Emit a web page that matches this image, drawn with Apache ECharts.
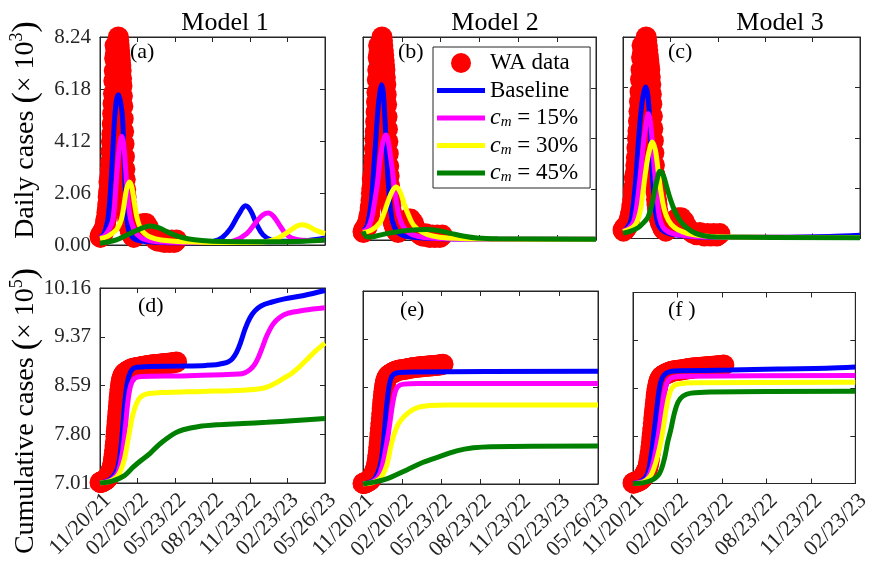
<!DOCTYPE html>
<html>
<head>
<meta charset="utf-8">
<script src="https://cdn.jsdelivr.net/npm/echarts@6/dist/echarts.min.js"></script>
<style>html,body{margin:0;padding:0;background:#fff;}#chart{width:873px;height:566px;}</style>
</head>
<body>
<div id="chart"></div>
<script>
// ---------- tick labels ----------
const xTickLabels = ['11/20/21','02/20/22','05/23/22','08/23/22','11/23/22','02/23/23','05/26/23'];
const dailyTickLabels = ['0.00','2.06','4.12','6.18','8.24'];
const cumTickLabels = ['7.01','7.80','8.59','9.37','10.16'];
const modelTitles = ['Model 1','Model 2','Model 3'];
const panelLetters = ['(a)','(b)','(c)','(d)','(e)','(f )'];
const seriesNames = ['WA data','Baseline','c_m = 15%','c_m = 30%','c_m = 45%'];

// ---------- WA data (days since 11/20/21) ----------
const dataDays = [0,1,2,3,4,5,6,7,8,9,10,11,12,13,14,15,16,17,18,19,20,21,22,23,24,25,26,27,28,29,30,31,32,33,34,35,36,37,38,39,40,41,42,43,44,45,46,47,48,49,50,51,52,53,54,55,56,57,58,59,60,61,62,63,64,65,66,67,68,69,70,71,72,73,74,75,76,77,78,79,80,
  83,86,89,92,95,98,101,104,107,110,113,116,119,122,125,128,131,134,137,140,143,146,149,152,155,158,161,164,167,170,173,176,179,182,185,188];
const dataDaily = [0.35,0.3,0.4,0.45,0.35,0.4,0.5,0.45,0.55,0.6,0.55,0.7,0.75,0.8,0.95,1.0,1.1,1.3,1.4,1.6,1.9,2.1,2.5,2.4,2.7,3.0,3.3,3.7,4.1,4.4,4.8,5.2,5.6,6.0,6.5,6.9,7.4,7.9,7.6,7.2,6.9,7.1,7.4,7.7,8.0,8.24,8.1,7.9,7.7,7.5,7.3,7.1,6.9,6.6,6.3,5.9,5.5,5.0,4.5,4.0,3.5,3.0,2.6,2.2,1.9,1.6,1.4,1.2,1.05,0.95,0.85,0.8,0.7,0.65,0.6,0.55,0.5,0.45,0.4,0.4,0.35,
  0.3,0.35,0.4,0.45,0.55,0.65,0.75,0.8,0.85,0.8,0.85,0.75,0.7,0.55,0.45,0.35,0.3,0.25,0.2,0.2,0.15,0.2,0.25,0.2,0.15,0.1,0.15,0.2,0.15,0.1,0.15,0.2,0.15,0.1,0.15,0.2];
const dataCum = [7.02,7.02,7.02,7.03,7.03,7.03,7.03,7.04,7.04,7.04,7.05,7.05,7.05,7.06,7.06,7.07,7.07,7.08,7.09,7.1,7.1,7.11,7.13,7.14,7.16,7.17,7.19,7.2,7.22,7.24,7.26,7.29,7.33,7.37,7.42,7.48,7.54,7.61,7.68,7.76,7.84,7.92,8.0,8.08,8.16,8.24,8.32,8.39,8.46,8.52,8.57,8.61,8.65,8.68,8.7,8.72,8.74,8.75,8.76,8.77,8.78,
  8.785,8.79,8.795,8.8,8.805,8.81,8.815,8.82,8.822,8.825,8.83,8.832,8.835,8.84,8.842,8.845,8.85,8.852,8.855,8.86,
  8.865,8.87,8.873,8.876,8.879,8.882,8.886,8.89,8.894,8.898,8.902,8.906,8.91,8.913,8.916,8.918,8.92,8.922,8.924,8.926,8.928,8.93,8.932,8.934,8.936,8.938,8.94,8.942,8.944,8.946,8.948,8.95,8.953,8.956,8.96,8.965];

// ---------- Model 1 daily (x10^3) ----------
const m1DailyBase = [[0,0.3],[5,0.35],[10,0.45],[15,0.7],[20,1.1],[25,2.0],[30,3.3],[35,4.8],[40,5.7],[45,5.95],[50,5.7],[55,5.1],[58,4.0],[61,2.6],[65,1.3],[70,0.6],[80,0.3],[90,0.2],[110,0.14],[150,0.1],[200,0.09],[250,0.1],[280,0.15],[300,0.3],[320,0.65],[340,1.2],[357,1.55],[370,1.35],[385,0.8],[400,0.4],[420,0.2],[450,0.15],[480,0.15],[510,0.18],[530,0.22],[552,0.28]];
const m1DailyC15 = [[0,0.3],[10,0.35],[20,0.55],[30,0.9],[35,1.4],[40,2.5],[45,3.5],[50,4.15],[54,4.3],[58,4.0],[63,3.0],[68,1.9],[73,1.2],[78,0.85],[90,0.45],[100,0.3],[110,0.22],[130,0.15],[170,0.11],[250,0.1],[300,0.11],[330,0.17],[360,0.45],[385,0.95],[400,1.2],[413,1.27],[425,1.15],[440,0.8],[455,0.45],[470,0.28],[490,0.2],[520,0.18],[552,0.2]];
const m1DailyC30 = [[0,0.25],[20,0.35],[40,0.6],[50,0.9],[55,1.2],[60,1.7],[65,2.2],[72,2.5],[78,2.3],[85,1.6],[92,1.0],[100,0.65],[110,0.45],[125,0.3],[150,0.2],[200,0.13],[300,0.1],[400,0.12],[420,0.18],[440,0.3],[460,0.5],[480,0.72],[495,0.8],[510,0.75],[530,0.58],[552,0.45]];
const m1DailyC45 = [[0,0.07],[20,0.12],[40,0.2],[60,0.35],[80,0.5],[100,0.65],[123,0.75],[145,0.68],[165,0.52],[190,0.35],[215,0.25],[250,0.18],[300,0.14],[400,0.13],[500,0.15],[552,0.2]];

// ---------- Model 2 daily ----------
const m2DailyBase = [[0,0.4],[5,0.45],[10,0.6],[15,1.0],[20,1.6],[25,2.8],[30,4.0],[35,5.2],[40,6.0],[44,6.3],[48,6.0],[52,4.9],[56,3.5],[60,2.3],[65,1.3],[70,0.75],[80,0.35],[90,0.22],[100,0.15],[150,0.07],[250,0.04],[552,0.03]];
const m2DailyC15 = [[0,0.35],[10,0.45],[20,0.85],[28,1.6],[35,2.4],[40,3.2],[45,3.8],[50,4.15],[55,4.26],[60,4.0],[65,3.4],[70,2.8],[77,1.8],[85,1.0],[95,0.55],[110,0.28],[130,0.15],[160,0.08],[250,0.04],[552,0.03]];
const m2DailyC30 = [[0,0.3],[20,0.4],[40,0.7],[50,1.1],[60,1.6],[70,2.0],[79,2.15],[88,1.95],[97,1.5],[108,1.0],[120,0.6],[140,0.32],[165,0.16],[200,0.08],[300,0.04],[552,0.03]];
const m2DailyC45 = [[0,0.35],[10,0.12],[20,0.12],[40,0.2],[70,0.3],[100,0.38],[130,0.42],[150,0.43],[180,0.38],[210,0.26],[240,0.15],[270,0.08],[320,0.05],[552,0.03]];

// ---------- Model 3 daily ----------
const m3DailyBase = [[0,0.3],[5,0.35],[10,0.5],[15,0.7],[20,1.4],[25,2.5],[30,4.0],[35,5.2],[40,5.95],[44,6.2],[48,5.9],[52,4.8],[56,3.0],[60,1.7],[65,0.85],[70,0.5],[80,0.28],[100,0.15],[150,0.06],[300,0.05],[400,0.08],[460,0.13]];
const m3DailyC15 = [[0,0.3],[10,0.4],[20,0.65],[25,1.1],[30,1.9],[35,2.9],[40,3.9],[45,4.7],[49,5.1],[53,4.8],[57,3.9],[61,2.8],[66,1.7],[71,0.85],[78,0.45],[90,0.25],[110,0.14],[160,0.06],[460,0.04]];
const m3DailyC30 = [[0,0.28],[15,0.4],[25,0.6],[30,0.85],[35,1.3],[40,2.1],[45,2.9],[50,3.5],[57,3.95],[63,3.6],[68,2.8],[73,2.0],[80,1.2],[88,0.75],[100,0.45],[115,0.28],[135,0.16],[180,0.07],[460,0.04]];
const m3DailyC45 = [[0,0.22],[15,0.3],[30,0.45],[40,0.65],[48,0.85],[55,1.3],[60,1.8],[65,2.3],[72,2.75],[78,2.6],[85,2.1],[92,1.6],[100,1.15],[110,0.75],[123,0.45],[140,0.22],[160,0.1],[180,0.06],[460,0.03]];

// ---------- Model 1 cumulative (x10^5) ----------
const m1CumBase = [[0,7.01],[20,7.05],[30,7.1],[40,7.2],[45,7.3],[50,7.5],[55,7.85],[60,8.25],[65,8.55],[70,8.72],[78,8.84],[90,8.88],[120,8.89],[200,8.9],[260,8.91],[285,8.92],[300,8.94],[315,8.97],[325,9.02],[335,9.12],[345,9.28],[356,9.5],[368,9.68],[380,9.79],[395,9.87],[420,9.93],[450,9.98],[500,10.04],[552,10.12]];
const m1CumC15 = [[0,7.01],[20,7.04],[35,7.1],[45,7.2],[55,7.5],[62,7.9],[68,8.3],[75,8.58],[85,8.7],[100,8.73],[200,8.74],[300,8.76],[340,8.77],[355,8.79],[368,8.84],[380,8.93],[390,9.06],[400,9.23],[410,9.4],[425,9.58],[440,9.68],[460,9.75],[500,9.8],[552,9.84]];
const m1CumC30 = [[0,7.01],[20,7.03],[40,7.1],[50,7.2],[60,7.4],[70,7.75],[80,8.1],[90,8.3],[100,8.4],[115,8.45],[150,8.47],[250,8.49],[350,8.51],[400,8.54],[430,8.62],[450,8.7],[470,8.78],[490,8.89],[510,9.02],[530,9.15],[552,9.27]];
const m1CumC45 = [[0,7.01],[30,7.04],[60,7.13],[82,7.27],[100,7.37],[123,7.49],[145,7.63],[164,7.73],[185,7.82],[204,7.87],[240,7.92],[286,7.95],[350,7.97],[409,7.99],[480,8.02],[552,8.05]];

// ---------- Model 2 cumulative ----------
const m2CumBase = [[0,7.01],[20,7.05],[30,7.12],[40,7.3],[45,7.5],[50,7.85],[55,8.25],[60,8.55],[65,8.72],[72,8.8],[85,8.83],[120,8.84],[552,8.85]];
const m2CumC15 = [[0,7.01],[20,7.04],[35,7.12],[45,7.3],[55,7.65],[62,7.95],[68,8.25],[75,8.5],[82,8.6],[95,8.64],[130,8.65],[552,8.65]];
const m2CumC30 = [[0,7.01],[20,7.03],[40,7.1],[55,7.3],[67,7.67],[80,7.95],[95,8.1],[106,8.17],[125,8.25],[157,8.29],[200,8.3],[552,8.3]];
const m2CumC45 = [[0,7.01],[50,7.08],[103,7.24],[140,7.36],[181,7.46],[220,7.55],[259,7.6],[300,7.62],[552,7.63]];

// ---------- Model 3 cumulative ----------
const m3CumBase = [[0,7.01],[15,7.04],[25,7.1],[32,7.22],[38,7.5],[44,7.89],[50,8.3],[55,8.6],[60,8.74],[67,8.82],[80,8.86],[100,8.87],[200,8.88],[300,8.9],[400,8.91],[460,8.93]];
const m3CumC15 = [[0,7.01],[20,7.04],[30,7.1],[40,7.3],[48,7.6],[54,7.89],[60,8.25],[66,8.55],[72,8.7],[82,8.76],[110,8.78],[460,8.79]];
const m3CumC30 = [[0,7.01],[20,7.03],[35,7.12],[45,7.3],[55,7.6],[62,7.89],[68,8.2],[74,8.45],[82,8.6],[95,8.65],[130,8.67],[460,8.68]];
const m3CumC45 = [[0,7.01],[20,7.02],[40,7.07],[55,7.18],[65,7.42],[72,7.7],[78,7.89],[85,8.15],[93,8.35],[103,8.45],[120,8.5],[160,8.52],[460,8.53]];

// ---------- layout / style ----------
const FONT = 'Liberation Serif';
const AX = '#262626';
const DAY_STEP = 92;
const CUM_BASE = 7.01, CUM_STEP = 0.7875, DAILY_STEP = 2.06;
const colors = ['#ff0000','#0000ff','#ff00ff','#ffff00','#008000'];

const panels = [
  {grid:{left:100,top:37,width:225,height:208}, xMax:552, cum:false, xLab:false, yLab:true, models:[m1DailyBase,m1DailyC15,m1DailyC30,m1DailyC45]},
  {grid:{left:363,top:37,width:233,height:203}, xMax:552, cum:false, xLab:false, yLab:false, models:[m2DailyBase,m2DailyC15,m2DailyC30,m2DailyC45]},
  {grid:{left:623,top:37,width:237,height:201.5}, xMax:460, cum:false, xLab:false, yLab:false, models:[m3DailyBase,m3DailyC15,m3DailyC30,m3DailyC45]},
  {grid:{left:100,top:288,width:225,height:195}, xMax:552, cum:true, xLab:true, yLab:true, models:[m1CumBase,m1CumC15,m1CumC30,m1CumC45]},
  {grid:{left:363,top:291,width:235,height:193}, xMax:552, cum:true, xLab:true, yLab:false, models:[m2CumBase,m2CumC15,m2CumC30,m2CumC45]},
  {grid:{left:633,top:292.5,width:226,height:191}, xMax:460, cum:true, xLab:true, yLab:false, models:[m3CumBase,m3CumC15,m3CumC30,m3CumC45]}
];

const grid = [], xAxis = [], yAxis = [], series = [];
panels.forEach((p, i) => {
  grid.push(Object.assign({show:true, borderColor:AX, borderWidth:1, backgroundColor:'transparent', containLabel:false}, p.grid));
  const tick = {show:true, inside:true, length:5, lineStyle:{color:AX, width:1}};
  const line = {show:true, onZero:false, lineStyle:{color:AX, width:1}};
  const xBase = {type:'value', gridIndex:i, min:0, max:p.xMax, interval:DAY_STEP, axisLine:line, axisTick:tick, splitLine:{show:false}};
  xAxis.push(Object.assign({}, xBase, {position:'bottom', axisLabel:{show:p.xLab, rotate:45, margin:6, verticalAlign:'top', fontSize:22, fontFamily:FONT, color:AX, showMinLabel:true, showMaxLabel:true, formatter:v => xTickLabels[Math.round(v/DAY_STEP)]}}));
  xAxis.push(Object.assign({}, xBase, {position:'top', axisLabel:{show:false}}));
  const yMax = p.cum ? 4*CUM_STEP : 4*DAILY_STEP;
  const yStep = p.cum ? CUM_STEP : DAILY_STEP;
  const labs = p.cum ? cumTickLabels : dailyTickLabels;
  const yBase = {type:'value', gridIndex:i, min:0, max:yMax, interval:yStep, axisLine:line, axisTick:tick, splitLine:{show:false}};
  yAxis.push(Object.assign({}, yBase, {position:'left', axisLabel:{show:p.yLab, margin:9, fontSize:21, fontFamily:FONT, color:AX, showMinLabel:true, showMaxLabel:true, formatter:v => labs[Math.round(v/yStep)]}}));
  yAxis.push(Object.assign({}, yBase, {position:'right', axisLabel:{show:false}}));
  const off = p.cum ? CUM_BASE : 0;
  const dataVals = p.cum ? dataCum : dataDaily;
  series.push({
    name:seriesNames[0], type:'scatter', xAxisIndex:2*i, yAxisIndex:2*i,
    data:dataDays.map((d,k) => [d, dataVals[k]-off]).filter(pt => pt[0] <= p.xMax),
    symbolSize:21, itemStyle:{color:colors[0], opacity:1}, z:2, silent:true
  });
  p.models.forEach((arr, m) => {
    series.push({
      name:seriesNames[m+1], type:'line', xAxisIndex:2*i, yAxisIndex:2*i,
      data:arr.map(([d,v]) => [d, v-off]),
      showSymbol:false, smooth:0.35,
      lineStyle:{width:5, color:colors[m+1], cap:'butt'}, itemStyle:{color:colors[m+1]}, z:3+m, silent:true
    });
  });
});

const lineIcon = 'path://M0,0H48V5H0Z';
const graphic = [];
const titleX = [225, 495, 780];
function txt(x, y, text, size, align, extra) {
  return Object.assign({type:'text', x:x, y:y, style:{text:text, fontSize:size, fontFamily:FONT, fill:'#000', align:align, verticalAlign:'middle'}}, extra || {});
}
modelTitles.forEach((t,i) => graphic.push(txt(titleX[i], 23, t, 26, 'center')));
const letterPos = [[130,52],[398,52],[668,52],[138,306],[400,310],[668,310]];
panelLetters.forEach((t,i) => graphic.push(txt(letterPos[i][0], letterPos[i][1], t, 22, 'left')));
const richName = {
  t:{fontSize:28, fontFamily:FONT, fill:'#000', lineHeight:36},
  p:{fontSize:34, fontFamily:FONT, fill:'#000', lineHeight:36},
  sup:{fontSize:18, fontFamily:FONT, fill:'#000', lineHeight:18, verticalAlign:'top'}
};
const yName1 = txt(26, 130, '{t|Daily cases }{p|(}{t|× 10}{sup|3}{p|)}', 28, 'center', {rotation:Math.PI/2});
yName1.style.rich = richName;
const yName2 = txt(26, 411, '{t|Cumulative cases }{p|(}{t|× 10}{sup|5}{p|)}', 28, 'center', {rotation:Math.PI/2});
yName2.style.rich = richName;
graphic.push(yName1, yName2);

const option = {
  animation:false,
  backgroundColor:'#fff',
  grid, xAxis, yAxis, series, graphic,
  legend:{
    show:true, left:433, top:47, orient:'vertical', selectedMode:false,
    itemWidth:48, itemHeight:20, itemGap:3.5, padding:[4,12,3,4],
    backgroundColor:'#fff', borderColor:AX, borderWidth:1, borderRadius:0,
    data:[{name:seriesNames[0], icon:'circle'}].concat(seriesNames.slice(1).map(n => ({name:n, icon:lineIcon}))),
    formatter:n => n.indexOf('c_m') === 0 ? '{i|c}{s|m}{t|' + n.slice(3) + '}' : n,
    textStyle:{fontFamily:FONT, fontSize:23, color:'#000', lineHeight:24,
      rich:{
        i:{fontFamily:FONT, fontSize:24, fontStyle:'italic', color:'#000', lineHeight:24},
        s:{fontFamily:FONT, fontSize:15, fontStyle:'italic', color:'#000', lineHeight:15, verticalAlign:'bottom'},
        t:{fontFamily:FONT, fontSize:23, color:'#000', lineHeight:24}
      }}
  }
};
const chart = echarts.init(document.getElementById('chart'), null, {renderer:'canvas'});
chart.setOption(option);
</script>
</body>
</html>
